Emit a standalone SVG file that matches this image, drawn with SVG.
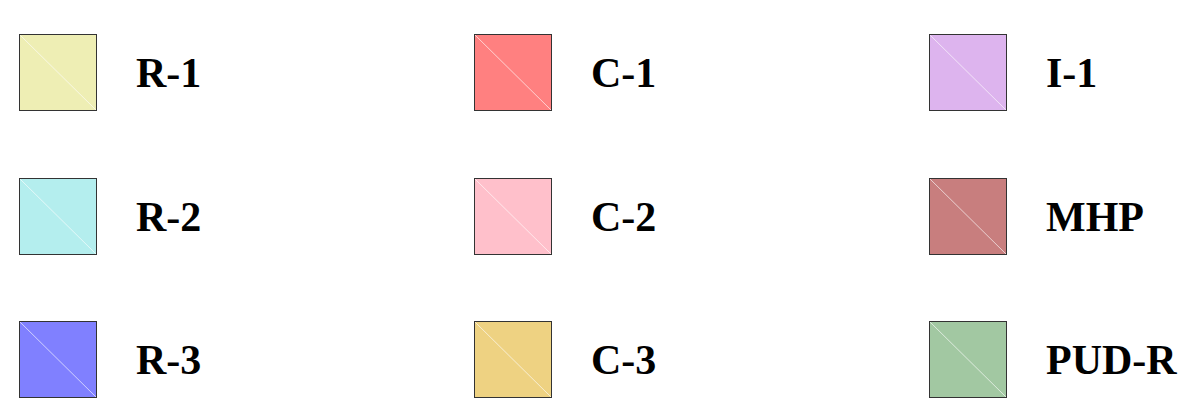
<svg xmlns="http://www.w3.org/2000/svg" width="1193" height="400" viewBox="0 0 1193 400">
<style>
.sw{stroke:#333;stroke-width:1}
.dg{stroke:#fff;stroke-width:0.8;opacity:0.8}
.lb{font-family:"Liberation Serif","Times New Roman",serif;font-weight:bold;font-size:42px;fill:#000}
</style>
<rect width="1193" height="400" fill="#fff"/>
<g id="R-1"><rect class="sw" x="19.5" y="34.5" width="77" height="76" fill="#eeeeb4"/><line class="dg" x1="20" y1="35" x2="96" y2="110"/><text class="lb" x="136" y="87">R-1</text></g>
<g id="R-2"><rect class="sw" x="19.5" y="178.5" width="77" height="76" fill="#b4eeee"/><line class="dg" x1="20" y1="179" x2="96" y2="254"/><text class="lb" x="136" y="231">R-2</text></g>
<g id="R-3"><rect class="sw" x="19.5" y="321.5" width="77" height="76" fill="#8080ff"/><line class="dg" x1="20" y1="322" x2="96" y2="397"/><text class="lb" x="136" y="374">R-3</text></g>
<g id="C-1"><rect class="sw" x="474.5" y="34.5" width="77" height="76" fill="#ff8080"/><line class="dg" x1="475" y1="35" x2="551" y2="110"/><text class="lb" x="591" y="87">C-1</text></g>
<g id="C-2"><rect class="sw" x="474.5" y="178.5" width="77" height="76" fill="#ffc0cb"/><line class="dg" x1="475" y1="179" x2="551" y2="254"/><text class="lb" x="591" y="231">C-2</text></g>
<g id="C-3"><rect class="sw" x="474.5" y="321.5" width="77" height="76" fill="#eed282"/><line class="dg" x1="475" y1="322" x2="551" y2="397"/><text class="lb" x="591" y="374">C-3</text></g>
<g id="I-1"><rect class="sw" x="929.5" y="34.5" width="77" height="76" fill="#ddb4ee"/><line class="dg" x1="930" y1="35" x2="1006" y2="110"/><text class="lb" x="1046" y="87">I-1</text></g>
<g id="MHP"><rect class="sw" x="929.5" y="178.5" width="77" height="76" fill="#c87e7e"/><line class="dg" x1="930" y1="179" x2="1006" y2="254"/><text class="lb" x="1046" y="231">MHP</text></g>
<g id="PUD-R"><rect class="sw" x="929.5" y="321.5" width="77" height="76" fill="#a2c8a2"/><line class="dg" x1="930" y1="322" x2="1006" y2="397"/><text class="lb" x="1046" y="374">PUD-R</text></g>
<g id="connectors"></g>
</svg>
